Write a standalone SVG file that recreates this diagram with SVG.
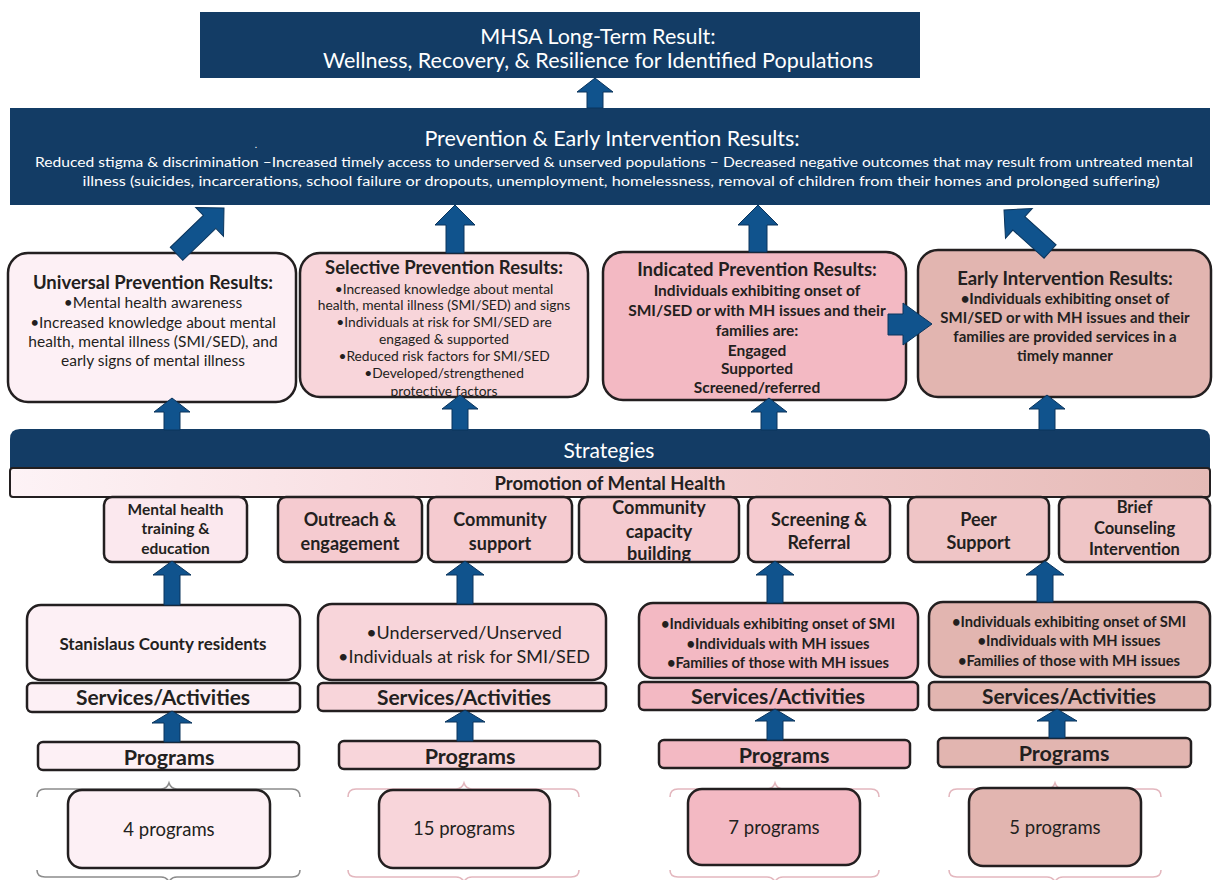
<svg xmlns="http://www.w3.org/2000/svg" width="1216" height="880" viewBox="0 0 1216 880">
<defs>
<style>
.nv{fill:#133c65}
.bx{stroke:#231f20;stroke-width:2.5}
.c1{fill:#fdf0f5}.c2{fill:#f8d5da}.c3{fill:#f3b9c3}.c4{fill:#e2b5b0}
.s1{fill:#fbe8ee}.s2{fill:#f5cbd0}.s3{fill:#efc5c6}
.t{font-family:Lato,'Liberation Sans',sans-serif;text-anchor:middle;fill:#231f20}
.w{fill:#ffffff}
.b{font-weight:bold}
.ar{fill:#10538d;stroke:#0a345c;stroke-width:1}
.brg{fill:none;stroke:#8c8c8c;stroke-width:1.6}
.brp{fill:none;stroke:#e3b7be;stroke-width:1.6}
</style>
<linearGradient id="promo" x1="0" y1="0" x2="1" y2="0">
<stop offset="0" stop-color="#fdf3f6"/>
<stop offset="0.5" stop-color="#f6d3d6"/>
<stop offset="1" stop-color="#e5bab6"/>
</linearGradient>
</defs>

<g id="long-term-result">
<rect class="nv" x="200" y="12" width="720" height="66"/>
<text class="t w" x="598" y="44" font-size="21.5">MHSA Long-Term Result:</text>
<text class="t w" x="598" y="68" font-size="21.5">Wellness, Recovery, &amp; Resilience for Identified Populations</text>
</g>

<g id="pei-results">
<rect class="nv" x="10" y="108" width="1200" height="97"/>
<text class="t w" x="612" y="146" font-size="21.5">Prevention &amp; Early Intervention Results:</text>
<text class="t w" x="256" y="148" font-size="10">.</text>
<text class="t w" x="614" y="166.5" font-size="13.5" textLength="1158" lengthAdjust="spacingAndGlyphs">Reduced stigma &amp; discrimination –Increased timely access to underserved &amp; unserved populations – Decreased negative outcomes that may result  from untreated mental</text>
<text class="t w" x="621" y="185.5" font-size="13.5" textLength="1077" lengthAdjust="spacingAndGlyphs">illness (suicides, incarcerations, school failure or dropouts, unemployment, homelessness, removal of children from their homes and prolonged suffering)</text>
</g>

<g id="universal-results">
<rect class="bx c1" x="8" y="253" width="288" height="149" rx="20"/>
<text class="t b" x="153" y="288.5" font-size="18.5">Universal Prevention Results:</text>
<text class="t" x="153" y="308" font-size="15.5">•Mental health awareness</text>
<text class="t" x="153" y="327.5" font-size="15.5">•Increased knowledge about mental</text>
<text class="t" x="153" y="346.5" font-size="15.5">health, mental illness (SMI/SED), and</text>
<text class="t" x="153" y="365.5" font-size="15.5">early signs of mental illness</text>
</g>

<g id="selective-results">
<rect class="bx c2" x="300" y="253" width="288" height="144" rx="20"/>
<text class="t b" x="444" y="274" font-size="18.5">Selective Prevention Results:</text>
<text class="t" x="444" y="293.5" font-size="13.8">•Increased knowledge about mental</text>
<text class="t" x="444" y="310" font-size="13.8">health, mental illness (SMI/SED) and signs</text>
<text class="t" x="444" y="327" font-size="13.8">•Individuals at risk for SMI/SED are</text>
<text class="t" x="444" y="344" font-size="13.8">engaged &amp; supported</text>
<text class="t" x="444" y="361" font-size="13.8">•Reduced risk factors for SMI/SED</text>
<text class="t" x="444" y="378" font-size="13.8">•Developed/strengthened</text>
<text class="t" x="444" y="396" font-size="13.8">protective factors</text>
</g>

<g id="indicated-results">
<rect class="bx c3" x="603" y="252" width="303" height="148" rx="20"/>
<text class="t b" x="757" y="276" font-size="18.5">Indicated Prevention Results:</text>
<text class="t b" x="757" y="295.5" font-size="15.5">Individuals exhibiting onset of</text>
<text class="t b" x="757" y="315.5" font-size="15.5">SMI/SED or with MH issues and their</text>
<text class="t b" x="757" y="335.5" font-size="15.5">families are:</text>
<text class="t b" x="757" y="355.5" font-size="15.5">Engaged</text>
<text class="t b" x="757" y="373.5" font-size="15.5">Supported</text>
<text class="t b" x="757" y="392.5" font-size="15.5">Screened/referred</text>
</g>

<g id="early-intervention-results">
<rect class="bx c4" x="918" y="250" width="293" height="147" rx="20"/>
<text class="t b" x="1065" y="285" font-size="18.5">Early Intervention Results:</text>
<text class="t b" x="1065" y="303.5" font-size="15">•Individuals exhibiting onset of</text>
<text class="t b" x="1065" y="322.5" font-size="15">SMI/SED or with MH issues and their</text>
<text class="t b" x="1065" y="341.5" font-size="15">families are provided services in a</text>
<text class="t b" x="1065" y="360.5" font-size="15">timely manner</text>
</g>

<g id="strategies">
<path class="nv" d="M10,468 L10,439 Q10,429 20,429 L1200,429 Q1210,429 1210,439 L1210,468 Z"/>
<text class="t w" x="609" y="458" font-size="21">Strategies</text>
</g>

<g id="promotion">
<rect x="10" y="468" width="1200" height="29" rx="3" fill="url(#promo)" stroke="#231f20" stroke-width="2"/>
<text class="t b" x="610" y="489.5" font-size="18.5">Promotion of Mental Health</text>
</g>

<g id="strategy-training">
<rect class="bx s1" x="104" y="497" width="143" height="65" rx="8"/>
<text class="t b" x="175.5" y="514.5" font-size="15.5">Mental health</text>
<text class="t b" x="175.5" y="534" font-size="15.5">training &amp;</text>
<text class="t b" x="175.5" y="553.5" font-size="15.5">education</text>
</g>
<g id="strategy-outreach">
<rect class="bx s2" x="278" y="497" width="144" height="65" rx="8"/>
<text class="t b" x="350" y="525.5" font-size="18">Outreach &amp;</text>
<text class="t b" x="350" y="549.5" font-size="18">engagement</text>
</g>
<g id="strategy-community-support">
<rect class="bx s2" x="428" y="497" width="144" height="65" rx="8"/>
<text class="t b" x="500" y="525.5" font-size="18">Community</text>
<text class="t b" x="500" y="549.5" font-size="18">support</text>
</g>
<g id="strategy-capacity">
<rect class="bx s2" x="579" y="497" width="160" height="65" rx="8"/>
<text class="t b" x="659" y="513.5" font-size="18">Community</text>
<text class="t b" x="659" y="537.5" font-size="18">capacity</text>
<text class="t b" x="659" y="560" font-size="18">building</text>
</g>
<g id="strategy-screening">
<rect class="bx s2" x="748" y="497" width="142" height="65" rx="8"/>
<text class="t b" x="819" y="525.5" font-size="18">Screening &amp;</text>
<text class="t b" x="819" y="549" font-size="18">Referral</text>
</g>
<g id="strategy-peer">
<rect class="bx s3" x="908" y="497" width="141" height="65" rx="8"/>
<text class="t b" x="978.5" y="525.5" font-size="18">Peer</text>
<text class="t b" x="978.5" y="549" font-size="18">Support</text>
</g>
<g id="strategy-brief-counseling">
<rect class="bx s3" x="1059" y="497" width="151" height="65" rx="8"/>
<text class="t b" x="1134.5" y="512.5" font-size="16.5">Brief</text>
<text class="t b" x="1134.5" y="533.5" font-size="16.5">Counseling</text>
<text class="t b" x="1134.5" y="555" font-size="16.5">Intervention</text>
</g>

<g id="population-1">
<rect class="bx c1" x="27" y="605" width="273" height="75" rx="14"/>
<text class="t b" x="163" y="649.5" font-size="17">Stanislaus County residents</text>
</g>
<g id="population-2">
<rect class="bx c2" x="318" y="604" width="288" height="76" rx="14"/>
<text class="t" x="464" y="638.5" font-size="18">•Underserved/Unserved</text>
<text class="t" x="464" y="662.5" font-size="18">•Individuals at risk for SMI/SED</text>
</g>
<g id="population-3">
<rect class="bx c3" x="639" y="603" width="279" height="75" rx="14"/>
<text class="t b" x="778" y="629" font-size="14.7">•Individuals exhibiting onset of SMI</text>
<text class="t b" x="778" y="649" font-size="14.7">•Individuals with MH issues</text>
<text class="t b" x="778" y="668" font-size="14.7">•Families of those with MH issues</text>
</g>
<g id="population-4">
<rect class="bx c4" x="929" y="602" width="281" height="75" rx="14"/>
<text class="t b" x="1069" y="627" font-size="14.7">•Individuals exhibiting onset of SMI</text>
<text class="t b" x="1069" y="646" font-size="14.7">•Individuals with MH issues</text>
<text class="t b" x="1069" y="666" font-size="14.7">•Families of those with MH issues</text>
</g>

<g id="services-1">
<rect class="bx c1" x="27" y="683" width="273" height="29" rx="5"/>
<text class="t b" x="163" y="705" font-size="21">Services/Activities</text>
</g>
<g id="services-2">
<rect class="bx c2" x="318" y="683" width="288" height="28" rx="5"/>
<text class="t b" x="464" y="704.5" font-size="21">Services/Activities</text>
</g>
<g id="services-3">
<rect class="bx c3" x="639" y="682" width="279" height="28" rx="5"/>
<text class="t b" x="778" y="703.5" font-size="21">Services/Activities</text>
</g>
<g id="services-4">
<rect class="bx c4" x="929" y="682" width="281" height="28" rx="5"/>
<text class="t b" x="1069" y="703.5" font-size="21">Services/Activities</text>
</g>

<g id="programs-1">
<rect class="bx c1" x="38" y="742" width="261" height="28" rx="5"/>
<text class="t b" x="169" y="764.5" font-size="21.5">Programs</text>
</g>
<g id="programs-2">
<rect class="bx c2" x="339" y="741" width="261" height="28" rx="5"/>
<text class="t b" x="470" y="763.5" font-size="21.5">Programs</text>
</g>
<g id="programs-3">
<rect class="bx c3" x="659" y="740" width="251" height="28" rx="5"/>
<text class="t b" x="784" y="762.5" font-size="21.5">Programs</text>
</g>
<g id="programs-4">
<rect class="bx c4" x="938" y="738" width="253" height="29" rx="5"/>
<text class="t b" x="1064" y="761" font-size="21.5">Programs</text>
</g>

<g id="count-1">
<path class="brg" d="M37,797 Q37,789 45,789 L161,789 Q167,789 169,783 Q171,789 177,789 L292,789 Q300,789 300,797"/>
<path class="brg" d="M37,870 Q37,877 45,877 L161,877 Q167,877 169,882 Q171,877 177,877 L292,877 Q300,877 300,870"/>
<rect class="bx c1" x="68" y="790" width="202" height="78" rx="14"/>
<text class="t" x="169" y="836" font-size="18.5">4 programs</text>
</g>
<g id="count-2">
<path class="brp" d="M348,797 Q348,789 356,789 L456,789 Q462,789 464,783 Q466,789 472,789 L571,789 Q579,789 579,797" stroke="#d7bcc0"/>
<path class="brp" d="M348,870 Q348,877 356,877 L456,877 Q462,877 464,882 Q466,877 472,877 L571,877 Q579,877 579,870"/>
<rect class="bx c2" x="379" y="790" width="171" height="78" rx="14"/>
<text class="t" x="464" y="835" font-size="18.5">15 programs</text>
</g>
<g id="count-3">
<path class="brp" d="M670,797 Q670,789 678,789 L767,789 Q773,789 775,783 Q777,789 783,789 L871,789 Q879,789 879,797"/>
<path class="brp" d="M670,870 Q670,877 678,877 L767,877 Q773,877 775,882 Q777,877 783,877 L871,877 Q879,877 879,870"/>
<rect class="bx c3" x="688" y="789" width="172" height="76" rx="14"/>
<text class="t" x="774" y="834" font-size="18.5">7 programs</text>
</g>
<g id="count-4">
<path class="brp" d="M949,797 Q949,789 957,789 L1047,789 Q1053,789 1055,783 Q1057,789 1063,789 L1153,789 Q1161,789 1161,797"/>
<path class="brp" d="M949,870 Q949,877 957,877 L1047,877 Q1053,877 1055,882 Q1057,877 1063,877 L1153,877 Q1161,877 1161,870"/>
<rect class="bx c4" x="969" y="788" width="172" height="78" rx="14"/>
<text class="t" x="1055" y="834" font-size="18.5">5 programs</text>
</g>

<g id="connectors">
<path class="ar" d="M595,78 L613,92 L603,92 L603,108 L587,108 L587,92 L577,92 Z"/>
<path class="ar" transform="translate(224,208) rotate(46)" d="M0,0 L20,20 L9,20 L9,66 L-9,66 L-9,20 L-20,20 Z"/>
<path class="ar" d="M455,205 L475,225 L464,225 L464,253 L446,253 L446,225 L435,225 Z"/>
<path class="ar" d="M758,205 L778,225 L767,225 L767,252 L749,252 L749,225 L738,225 Z"/>
<path class="ar" transform="translate(1004,210) rotate(-48)" d="M0,0 L20,20 L9,20 L9,62 L-9,62 L-9,20 L-20,20 Z"/>
<path class="ar" d="M888,314 L903,314 L903,303 L932,324 L903,345 L903,335 L888,335 Z"/>
<path class="ar" d="M172,398 L190,412 L180,412 L180,430 L164,430 L164,412 L154,412 Z"/>
<path class="ar" d="M460,395 L478,409 L468,409 L468,430 L452,430 L452,409 L442,409 Z"/>
<path class="ar" d="M769,398 L787,412 L777,412 L777,430 L761,430 L761,412 L751,412 Z"/>
<path class="ar" d="M1047,395 L1065,409 L1055,409 L1055,430 L1039,430 L1039,409 L1029,409 Z"/>
<path class="ar" d="M172,561 L191,575 L180,575 L180,605 L164,605 L164,575 L153,575 Z"/>
<path class="ar" d="M465,561 L484,575 L473,575 L473,604 L457,604 L457,575 L446,575 Z"/>
<path class="ar" d="M775,561 L794,575 L783,575 L783,603 L767,603 L767,575 L756,575 Z"/>
<path class="ar" d="M1045,561 L1064,575 L1053,575 L1053,602 L1037,602 L1037,575 L1026,575 Z"/>
<path class="ar" d="M172,711 L192,723 L180,723 L180,742 L164,742 L164,723 L152,723 Z"/>
<path class="ar" d="M465,710 L485,722 L473,722 L473,741 L457,741 L457,722 L445,722 Z"/>
<path class="ar" d="M775,709 L795,721 L783,721 L783,740 L767,740 L767,721 L755,721 Z"/>
<path class="ar" d="M1057,709 L1077,721 L1065,721 L1065,738 L1049,738 L1049,721 L1037,721 Z"/>
</g>
</svg>
